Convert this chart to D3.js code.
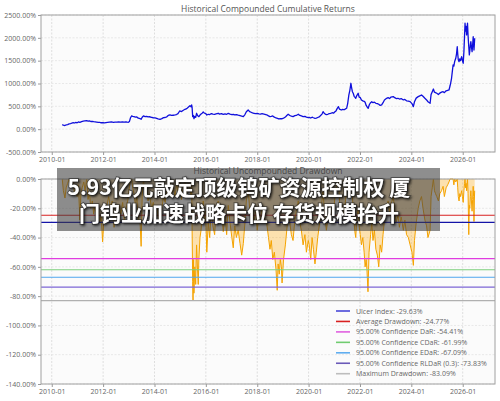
<!DOCTYPE html>
<html>
<head>
<meta charset="utf-8">
<script src="https://cdn.jsdelivr.net/npm/d3@7"></script>
<style>
  body { margin: 0; background: #ffffff; }
  svg { display: block; font-family: "Open Sans", "DejaVu Sans", sans-serif; }
</style>
</head>
<body>
<script>

// compounded cumulative returns (%)
var returnDates = [
  "2010-05-30","2010-06-15","2010-07-08","2010-07-25","2010-08-15","2010-09-05","2010-09-25","2010-10-12","2010-11-01","2010-11-20",
  "2010-12-10","2010-12-28","2011-01-15","2011-02-05","2011-03-01","2011-03-25","2011-04-15","2011-05-12","2011-06-01","2011-06-20",
  "2011-07-10","2011-08-01","2011-08-20","2011-09-10","2011-10-01","2011-10-25","2011-11-15","2011-12-05","2011-12-31","2012-01-20",
  "2012-02-10","2012-03-05","2012-03-30","2012-04-30","2012-05-25","2012-06-20","2012-07-15","2012-08-10","2012-09-05","2012-10-01",
  "2012-10-25","2012-11-20","2012-12-10","2012-12-25","2013-01-10","2013-01-25","2013-02-10","2013-02-25","2013-03-15","2013-04-05",
  "2013-04-25","2013-05-15","2013-06-10","2013-06-25","2013-07-10","2013-07-28","2013-08-20","2013-09-10","2013-10-01","2013-10-20",
  "2013-11-20","2013-12-15","2014-01-10","2014-02-01","2014-02-20","2014-03-21","2014-04-15","2014-05-10","2014-06-01","2014-06-25",
  "2014-07-15","2014-08-08","2014-09-01","2014-09-25","2014-10-20","2014-11-10","2014-12-01","2014-12-25","2015-01-20","2015-02-10",
  "2015-03-10","2015-04-05","2015-04-25","2015-05-20","2015-06-05","2015-06-13","2015-06-20","2015-06-28","2015-07-08","2015-07-16",
  "2015-07-28","2015-08-10","2015-08-22","2015-09-05","2015-09-24","2015-10-10","2015-10-25","2015-11-10","2015-11-25","2015-12-10",
  "2015-12-28","2016-01-15","2016-02-05","2016-02-25","2016-03-20","2016-04-10","2016-05-05","2016-05-25","2016-06-25","2016-07-15",
  "2016-08-10","2016-09-05","2016-09-30","2016-10-23","2016-11-15","2016-12-10","2017-01-05","2017-01-25","2017-02-15","2017-03-10",
  "2017-04-05","2017-05-01","2017-05-25","2017-06-17","2017-07-10","2017-07-30","2017-08-25","2017-09-15","2017-10-05","2017-10-25",
  "2017-11-15","2017-12-10","2018-01-01","2018-01-25","2018-02-15","2018-03-10","2018-04-20","2018-05-15","2018-06-10","2018-07-01",
  "2018-07-20","2018-08-10","2018-09-01","2018-09-25","2018-10-15","2018-11-05","2018-11-25","2018-12-15","2019-01-10","2019-02-05",
  "2019-02-25","2019-03-17","2019-04-10","2019-05-01","2019-05-25","2019-06-20","2019-07-10","2019-08-08","2019-08-30","2019-09-20",
  "2019-10-15","2019-11-10","2019-12-01","2019-12-28","2020-01-10","2020-02-01","2020-02-20","2020-03-10","2020-04-01","2020-04-20",
  "2020-05-10","2020-06-01","2020-06-20","2020-07-10","2020-07-25","2020-08-10","2020-08-25","2020-09-10","2020-10-01","2020-10-20",
  "2020-11-10","2020-12-01","2020-12-20","2021-01-10","2021-01-25","2021-02-10","2021-02-28","2021-03-15","2021-04-10","2021-05-01",
  "2021-05-20","2021-06-10","2021-06-25","2021-07-10","2021-07-27","2021-08-10","2021-08-25","2021-09-05","2021-09-15","2021-09-27",
  "2021-10-10","2021-10-20","2021-11-02","2021-11-15","2021-12-06","2021-12-20","2022-01-05","2022-01-22","2022-02-10","2022-03-01",
  "2022-03-15","2022-03-30","2022-04-15","2022-04-28","2022-05-15","2022-06-01","2022-06-17","2022-07-05","2022-07-25","2022-08-15",
  "2022-09-05","2022-09-25","2022-10-15","2022-11-05","2022-11-25","2022-12-15","2023-01-15","2023-02-05","2023-02-25","2023-03-15",
  "2023-04-20","2023-05-10","2023-05-30","2023-06-25","2023-07-15","2023-08-10","2023-09-10","2023-10-01","2023-10-25","2023-11-20",
  "2023-12-15","2024-01-10","2024-01-30","2024-02-15","2024-03-10","2024-04-08","2024-05-01","2024-05-25","2024-06-15","2024-07-12",
  "2024-08-05","2024-08-25","2024-09-24","2024-10-08","2024-10-25","2024-11-10","2024-11-25","2024-12-10","2024-12-28","2025-01-20",
  "2025-02-10","2025-03-05","2025-03-28","2025-04-15","2025-05-10","2025-06-01","2025-06-20","2025-07-05","2025-07-15","2025-07-26",
  "2025-08-05","2025-08-17","2025-08-28","2025-09-08","2025-09-24","2025-10-05","2025-10-15","2025-10-22","2025-10-30","2025-11-10",
  "2025-11-20","2025-12-01","2025-12-17","2025-12-28","2026-01-08","2026-01-18","2026-01-27","2026-02-03","2026-02-10","2026-02-18",
  "2026-02-25","2026-03-03","2026-03-10","2026-03-18","2026-03-26","2026-04-05","2026-04-12","2026-04-20","2026-04-27","2026-05-05",
  "2026-05-14","2026-05-22","2026-05-30","2026-06-05","2026-06-10","2026-06-15","2026-06-20"
];
var returnValues = [
  100, 90, 80, 92, 100, 115, 122, 130, 145, 135,
  148, 140, 158, 150, 165, 175, 182, 186, 175, 180,
  168, 172, 165, 160, 155, 150, 148, 140, 143, 138,
  145, 150, 155, 158, 150, 155, 152, 158, 155, 160,
  155, 158, 152, 150, 170, 250, 289, 280, 274, 262,
  268, 240, 230, 216, 260, 289, 275, 280, 268, 272,
  260, 250, 245, 235, 225, 216, 230, 252, 255, 270,
  300, 311, 300, 305, 311, 320, 340, 398, 385, 410,
  435, 450, 480, 515, 490, 530, 470, 274, 300, 230,
  280, 260, 348, 300, 274, 310, 330, 350, 377, 350,
  345, 310, 326, 320, 340, 330, 325, 335, 348, 330,
  340, 325, 335, 326, 345, 330, 320, 325, 311, 318,
  305, 295, 285, 274, 320, 380, 420, 385, 370, 355,
  348, 340, 345, 335, 330, 338, 326, 315, 290, 274,
  280, 289, 262, 245, 235, 223, 230, 228, 240, 265,
  300, 326, 300, 285, 274, 295, 300, 326, 300, 290,
  275, 280, 265, 252, 260, 245, 262, 250, 238, 242,
  255, 270, 300, 330, 383, 350, 330, 320, 326, 340,
  345, 360, 350, 383, 400, 450, 493, 440, 420, 435,
  425, 445, 457, 560, 749, 850, 1005, 900, 820, 786,
  720, 700, 676, 730, 786, 700, 690, 640, 620, 610,
  589, 520, 480, 457, 540, 580, 602, 580, 590, 567,
  560, 545, 520, 530, 580, 640, 676, 690, 670, 700,
  712, 690, 670, 676, 660, 670, 640, 650, 620, 615,
  602, 560, 493, 600, 680, 712, 730, 749, 720, 676,
  640, 600, 567, 760, 820, 880, 810, 800, 786, 760,
  790, 810, 821, 800, 840, 850, 858, 950, 1020, 1114,
  1250, 1406, 1380, 1480, 1552, 1650, 1806, 1650, 1520, 1478,
  1540, 1500, 1588, 1500, 1443, 1700, 2050, 2319, 2150, 2250,
  2063, 2200, 2319, 2050, 1850, 1625, 1720, 1850, 1916, 1800,
  1697, 1850, 2025, 1880, 1734, 1850, 1990
];

// uncompounded drawdown (%)
var drawdownDates = [
  "2010-05-30","2010-06-15","2010-07-08","2010-07-25","2010-08-15","2010-09-05","2010-09-25","2010-10-12","2010-11-01","2010-11-20",
  "2010-12-10","2010-12-28","2011-01-15","2011-02-05","2011-02-20","2011-03-10","2011-04-01","2011-04-20","2011-05-12","2011-06-01",
  "2011-06-20","2011-07-10","2011-08-01","2011-08-20","2011-09-10","2011-10-01","2011-10-25","2011-11-15","2011-12-05","2011-12-25",
  "2012-01-10","2012-02-01","2012-02-25","2012-03-20","2012-04-15","2012-05-10","2012-06-05","2012-06-25","2012-07-20","2012-08-15",
  "2012-09-10","2012-10-05","2012-10-30","2012-11-25","2012-12-20","2013-01-10","2013-01-25","2013-02-10","2013-02-25","2013-03-15",
  "2013-04-05","2013-04-25","2013-05-15","2013-06-10","2013-06-25","2013-07-10","2013-07-28","2013-08-20","2013-09-10","2013-10-01",
  "2013-10-20","2013-11-20","2013-12-15","2014-01-10","2014-02-01","2014-02-20","2014-03-21","2014-04-15","2014-05-10","2014-06-01",
  "2014-06-25","2014-07-15","2014-08-08","2014-09-01","2014-09-25","2014-10-20","2014-11-10","2014-12-01","2014-12-25","2015-01-20",
  "2015-02-10","2015-03-10","2015-04-05","2015-04-25","2015-05-20","2015-06-05","2015-06-13","2015-06-20","2015-06-28","2015-07-03",
  "2015-07-08","2015-07-16","2015-07-28","2015-08-10","2015-08-22","2015-09-05","2015-09-15","2015-09-24","2015-10-10","2015-10-25",
  "2015-11-10","2015-11-25","2015-12-10","2015-12-28","2016-01-15","2016-02-05","2016-02-25","2016-03-20","2016-04-10","2016-05-05",
  "2016-05-25","2016-06-25","2016-07-15","2016-08-10","2016-09-05","2016-09-30","2016-10-23","2016-11-15","2016-12-10","2017-01-05",
  "2017-01-25","2017-02-15","2017-03-10","2017-04-05","2017-05-01","2017-05-25","2017-06-17","2017-07-10","2017-07-30","2017-08-25",
  "2017-09-15","2017-10-05","2017-10-25","2017-11-15","2017-12-10","2018-01-01","2018-01-25","2018-02-15","2018-03-10","2018-04-20",
  "2018-05-15","2018-06-10","2018-07-01","2018-07-20","2018-08-10","2018-09-01","2018-09-25","2018-10-12","2018-10-25","2018-11-10",
  "2018-11-25","2018-12-10","2018-12-20","2019-01-10","2019-02-05","2019-02-25","2019-03-17","2019-04-10","2019-05-01","2019-05-25",
  "2019-06-20","2019-07-10","2019-08-08","2019-08-30","2019-09-20","2019-10-15","2019-11-10","2019-12-01","2019-12-28","2020-01-10",
  "2020-02-01","2020-02-20","2020-03-10","2020-04-01","2020-04-20","2020-05-10","2020-06-01","2020-06-20","2020-07-10","2020-07-25",
  "2020-08-10","2020-08-25","2020-09-10","2020-10-01","2020-10-20","2020-11-10","2020-12-01","2020-12-20","2021-01-10","2021-01-25",
  "2021-02-10","2021-02-28","2021-03-15","2021-04-10","2021-05-01","2021-05-20","2021-06-10","2021-06-25","2021-07-10","2021-07-27",
  "2021-08-10","2021-08-25","2021-09-05","2021-09-15","2021-09-27","2021-10-10","2021-10-20","2021-11-02","2021-11-15","2021-12-06",
  "2021-12-20","2022-01-05","2022-01-22","2022-02-10","2022-03-01","2022-03-15","2022-03-30","2022-04-10","2022-04-25","2022-05-10",
  "2022-06-01","2022-06-17","2022-07-05","2022-07-25","2022-08-15","2022-09-05","2022-09-25","2022-10-15","2022-11-05","2022-11-25",
  "2022-12-15","2023-01-15","2023-02-05","2023-02-25","2023-03-15","2023-04-20","2023-05-10","2023-05-30","2023-06-25","2023-07-15",
  "2023-08-10","2023-09-10","2023-10-01","2023-10-25","2023-11-20","2023-12-15","2024-01-10","2024-01-30","2024-02-15","2024-03-10",
  "2024-04-08","2024-05-01","2024-05-25","2024-06-15","2024-07-12","2024-08-05","2024-08-25","2024-09-24","2024-10-08","2024-10-25",
  "2024-11-10","2024-11-25","2024-12-10","2024-12-28","2025-01-20","2025-02-10","2025-03-05","2025-03-28","2025-04-15","2025-05-10",
  "2025-06-01","2025-06-20","2025-07-05","2025-07-26","2025-08-17","2025-08-28","2025-09-08","2025-09-24","2025-10-15","2025-10-22",
  "2025-10-30","2025-11-10","2025-11-20","2025-12-01","2025-12-17","2025-12-28","2026-01-08","2026-01-18","2026-01-27","2026-02-03",
  "2026-02-10","2026-02-18","2026-02-25","2026-03-03","2026-03-10","2026-03-18","2026-03-28","2026-04-05","2026-04-12","2026-04-20",
  "2026-04-27","2026-05-05","2026-05-14","2026-05-22","2026-05-30","2026-06-05","2026-06-10","2026-06-15","2026-06-20"
];
var drawdownValues = [
  0, -8, -13, -6, -3, 0, -4, 0, -2, -10,
  -5, -12, -4, -28, -10, -6, -2, -8, 0, -14,
  -9, -20, -15, -24, -18, -26, -22, -30, -25, -43,
  -30, -22, -18, -12, -20, -15, -33, -22, -26, -18,
  -24, -16, -29, -20, -14, -5, 0, 0, -6, -10,
  -18, -12, -28, -30, -46, -12, 0, -10, -5, -15,
  -10, -20, -16, -24, -18, -26, -30, -20, -12, -16,
  -8, -3, 0, -10, -6, -12, -4, -8, 0, -14,
  -5, -2, -10, -3, -7, -12, 0, -35, -70, -83,
  -55, -78, -60, -72, -45, -62, -72, -55, -40, -35,
  -25, -15, -30, -22, -50, -30, -40, -20, -32, -38,
  -22, -15, -30, -20, -36, -25, -38, -18, -30, -40,
  -47, -32, -40, -35, -44, -52, -44, -30, -15, -8,
  -20, -26, -18, -30, -22, -35, -25, -30, -20, -28,
  -30, -40, -48, -42, -55, -50, -62, -76, -58, -65,
  -55, -60, -71, -55, -45, -35, -25, -30, -38, -42,
  -28, -22, -15, -30, -35, -45, -38, -50, -42, -45,
  -55, -40, -48, -58, -50, -40, -32, -25, -15, -8,
  -20, -28, -35, -28, -22, -30, -18, -24, -12, -8,
  -3, 0, -15, -22, -18, -25, -14, -10, -4, 0,
  0, 0, -6, -12, -22, -30, -36, -40, -28, -20,
  -32, -38, -45, -40, -50, -60, -55, -62, -77, -50,
  -38, -30, -42, -35, -48, -52, -60, -45, -50, -38,
  -28, -20, -15, -24, -18, -12, -22, -30, -25, -33,
  -26, -35, -28, -38, -40, -45, -50, -59, -42, -30,
  -20, -15, -12, -20, -28, -32, -40, -35, -12, -6,
  0, -8, -10, -12, -15, -10, -8, -5, -12, -6,
  -4, -2, 0, 0, 0, -4, 0, -2, 0, -6,
  -12, -15, -10, -12, -8, -12, -16, -8, -3, 0,
  -6, -3, -8, -4, 0, -10, -38, -18, -20, -12,
  -8, -15, -22, -14, -5, -12, -29, -15, -8
];

// risk measures drawn as horizontal lines
var riskLabels = [
  "Ulcer Index: -29.63%",
  "Average Drawdown: -24.77%",
  "95.00% Confidence DaR: -54.41%",
  "95.00% Confidence CDaR: -61.99%",
  "95.00% Confidence EDaR: -67.09%",
  "95.00% Confidence RLDaR (0.3): -73.83%",
  "Maximum Drawdown: -83.09%"
];
var riskValues = [-29.63, -24.77, -54.41, -61.99, -67.09, -73.83, -83.09];

// tick values
var xTickYears = [2010, 2012, 2014, 2016, 2018, 2020, 2022, 2024, 2026];
var returnTicks = [-500, 0, 500, 1000, 1500, 2000, 2500];
var drawdownTicks = [0, -20, -40, -60, -80, -100, -120, -140];

var headline = ["5.93亿元敲定顶级钨矿资源控制权 厦", "门钨业加速战略卡位 存货规模抬升"];

// styles
var riskColors = ["#1414a8", "#d82020", "#e03ce0", "#7ccf7c", "#4fa6ee", "#7d66d6", "#b0b0b0"];
var legendColors = ["#4848d8", "#d82020", "#e060e0", "#70cc70", "#60aef0", "#6a5ab8", "#bdbdbd"];

var parseDate = d3.timeParse("%Y-%m-%d");
var fmtPct = function(d) { return d.toFixed(2) + "%"; };

var returns = returnDates.map(function(d, i) { return {date: parseDate(d), value: returnValues[i]}; });
var drawdown = drawdownDates.map(function(d, i) { return {date: parseDate(d), value: drawdownValues[i]}; });

var width = 500, height = 401;
var left = 41, right = 495;
var top1 = 15, bottom1 = 152;
var top2 = 179, bottom2 = 384;

var svg = d3.select("body")
            .append("svg")
            .attr("width", width)
            .attr("height", height);

// soft dark shadow for the headline
var shadow = svg.append("defs").append("filter")
                .attr("id", "shadow")
                .attr("x", "-10%").attr("y", "-30%")
                .attr("width", "120%").attr("height", "160%");
shadow.append("feDropShadow")
      .attr("dx", 1.2).attr("dy", 1.2)
      .attr("stdDeviation", 1)
      .attr("flood-color", "#000")
      .attr("flood-opacity", 0.85);

// shared time scale
var xScale = d3.scaleTime()
               .domain([new Date(2009, 7, 1), new Date(2027, 3, 5)])
               .range([left, right]);
var xTicks = xTickYears.map(function(y) { return new Date(y, 0, 1); });

var yTop = d3.scaleLinear().domain([-500, 2500]).range([bottom1, top1]);
var yBot = d3.scaleLinear().domain([-140, 0]).range([bottom2, top2]);

// draw one panel background with grid and axes
function panel(yScale, yTicks, top, bottom, title, titleY) {
  svg.append("rect")
     .attr("x", left).attr("y", top)
     .attr("width", right - left).attr("height", bottom - top)
     .attr("fill", "#fbfbfb");

  var grid = svg.append("g");
  grid.selectAll(".vg").data(xTicks).enter().append("line")
      .attr("x1", function(d) { return xScale(d); })
      .attr("x2", function(d) { return xScale(d); })
      .attr("y1", top).attr("y2", bottom)
      .attr("stroke", "#dedede").attr("stroke-dasharray", "2,1.5");
  grid.selectAll(".hg").data(yTicks).enter().append("line")
      .attr("x1", left).attr("x2", right)
      .attr("y1", function(d) { return yScale(d); })
      .attr("y2", function(d) { return yScale(d); })
      .attr("stroke", "#e8e8e8").attr("stroke-dasharray", "2,1.5");

  var xAxis = svg.append("g")
     .attr("transform", "translate(0," + bottom + ")")
     .call(d3.axisBottom(xScale).tickValues(xTicks).tickFormat(d3.timeFormat("%Y-%m")).tickSize(3).tickPadding(2));
  var yAxis = svg.append("g")
     .attr("transform", "translate(" + left + ",0)")
     .call(d3.axisLeft(yScale).tickValues(yTicks).tickFormat(fmtPct).tickSize(3).tickPadding(2));

  [xAxis, yAxis].forEach(function(a) {
    a.select(".domain").remove();
    a.selectAll("line").attr("stroke", "#999");
    a.selectAll("text").attr("fill", "#666").attr("font-size", "7px")
     .attr("font-family", "'Open Sans', sans-serif");
  });

  svg.append("text")
     .attr("x", (left + right) / 2).attr("y", titleY)
     .attr("text-anchor", "middle")
     .attr("font-size", "8.5px")
     .attr("fill", "#555")
     .text(title);
}

function frame(top, bottom) {
  svg.append("rect")
     .attr("x", left).attr("y", top)
     .attr("width", right - left).attr("height", bottom - top)
     .attr("fill", "none").attr("stroke", "#a0a0a0").attr("stroke-width", 1);
}

// top panel: cumulative returns
panel(yTop, returnTicks, top1, bottom1, "Historical Compounded Cumulative Returns", 11.5);

svg.append("path")
   .datum(returns)
   .attr("fill", "none")
   .attr("stroke", "#1010dc")
   .attr("stroke-width", 1.3)
   .attr("stroke-linejoin", "round")
   .attr("d", d3.line().x(function(d) { return xScale(d.date); }).y(function(d) { return yTop(d.value); }));
frame(top1, bottom1);

// bottom panel: drawdown
panel(yBot, drawdownTicks, top2, bottom2, "Historical Uncompounded Drawdown", 174);

svg.append("path")
   .datum(drawdown)
   .attr("fill", "#ffa500")
   .attr("fill-opacity", 0.3)
   .attr("d", d3.area().x(function(d) { return xScale(d.date); }).y0(yBot(0)).y1(function(d) { return yBot(d.value); }));
svg.append("path")
   .datum(drawdown)
   .attr("fill", "none")
   .attr("stroke", "#f5a300")
   .attr("stroke-width", 1)
   .attr("d", d3.line().x(function(d) { return xScale(d.date); }).y(function(d) { return yBot(d.value); }));

svg.selectAll(".risk").data(riskValues).enter().append("line")
   .attr("x1", left).attr("x2", right)
   .attr("y1", function(d) { return yBot(d); })
   .attr("y2", function(d) { return yBot(d); })
   .attr("stroke", function(d, i) { return riskColors[i]; })
   .attr("stroke-width", 1.1);
frame(top2, bottom2);

// legend
var legend = svg.append("g").attr("transform", "translate(336,311)");
riskLabels.forEach(function(label, i) {
  legend.append("line")
        .attr("x1", 0).attr("x2", 14)
        .attr("y1", i * 10.45).attr("y2", i * 10.45)
        .attr("stroke", legendColors[i]).attr("stroke-width", 1.6);
  legend.append("text")
        .attr("x", 20).attr("y", i * 10.45 + 2.5)
        .attr("font-size", "7px")
        .attr("fill", "#666")
        .text(label);
});

// headline banner over the chart
svg.append("rect")
   .attr("x", 57).attr("y", 168)
   .attr("width", 383).attr("height", 63)
   .attr("fill", "rgb(60,60,60)")
   .attr("fill-opacity", 0.58);
svg.selectAll(".headline").data(headline).enter().append("text")
   .attr("x", 239)
   .attr("y", function(d, i) { return 195 + i * 26; })
   .attr("text-anchor", "middle")
   .attr("font-family", "'Noto Sans CJK SC', sans-serif")
   .attr("font-weight", "bold")
   .attr("font-size", "21px")
   .attr("fill", "#ffffff")
   .attr("stroke", "rgba(30,30,30,0.5)")
   .attr("stroke-width", 2)
   .attr("paint-order", "stroke")
   .attr("filter", "url(#shadow)")
   .text(function(d) { return d; });

</script>
</body>
</html>
